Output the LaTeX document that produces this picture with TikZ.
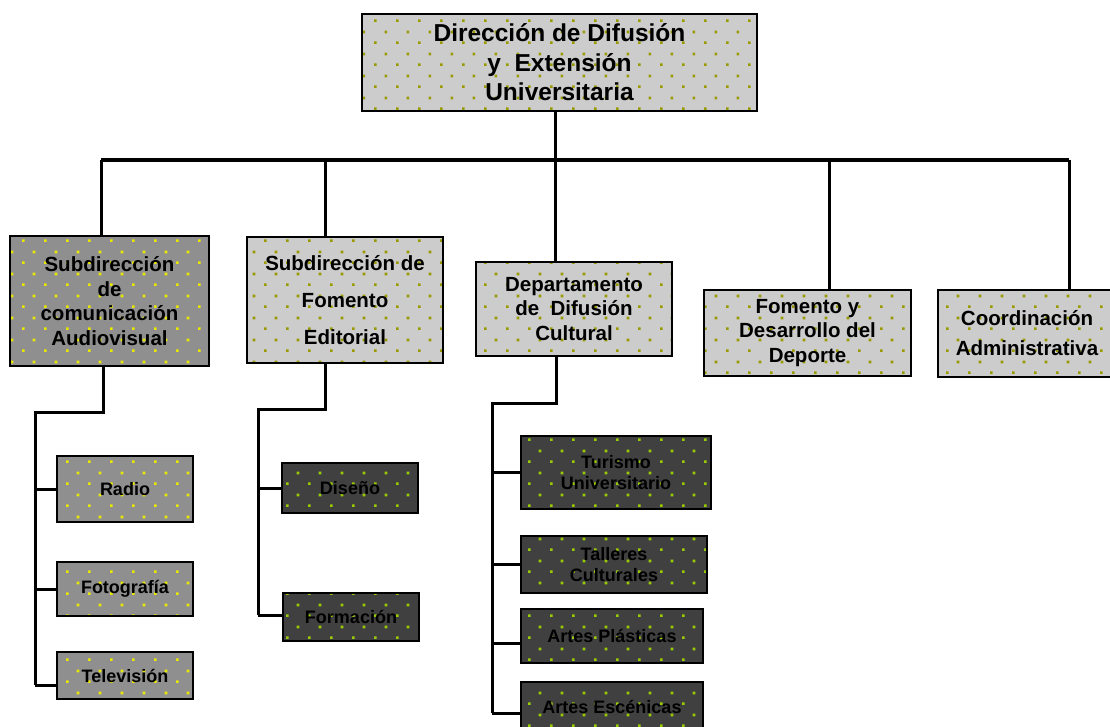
\documentclass[tikz,border=0pt]{standalone}
\usepackage{fontspec}
\setmainfont{Liberation Sans}
\usetikzlibrary{patterns.meta}
\definecolor{greymid}{HTML}{8F8F8F}
\definecolor{greylight}{HTML}{CCCCCC}
\definecolor{greydark}{HTML}{404040}
\definecolor{dotyellow}{HTML}{E8E800}
\definecolor{dotolive}{HTML}{999900}
\definecolor{dotlime}{HTML}{99CC00}
\tikzdeclarepattern{
  name=orgdots,
  type=uncolored,
  bottom left={(0pt,0pt)},
  top right={(22pt,22pt)},
  tile size={(22pt,22pt)},
  code={
    \fill (0pt,0pt) rectangle (2.8pt,2.8pt);
    \fill (11pt,11pt) rectangle (13.8pt,13.8pt);
  }
}
\begin{document}
\begin{tikzpicture}[
        x=1pt,
        y=-1pt,
        font=\bfseries
    ]
    \tikzset{
        orgbox/.style = {rectangle, draw=black, line width=2pt, inner sep=0pt, align=center},
        boxmid/.style = {orgbox, preaction={fill=greymid}, pattern=orgdots, pattern color=dotyellow},
        boxlight/.style = {orgbox, preaction={fill=greylight}, pattern=orgdots, pattern color=dotolive},
        boxdark/.style = {orgbox, preaction={fill=greydark}, pattern=orgdots, pattern color=dotlime},
        txtbig/.style = {font=\fontsize{24.5}{29.5}\selectfont\bfseries},
        txtmid/.style = {font=\fontsize{20.5}{24.5}\selectfont\bfseries},
        txtsmall/.style = {font=\fontsize{18}{21}\selectfont\bfseries},
        link/.style = {line width=3pt},
        linkbar/.style = {line width=3.5pt},
    }
    \useasboundingbox (0,0) rectangle (1110,726);
    \node[boxlight, txtbig, minimum width=395, minimum height=97] at (559.5,62.5) (dir) {Dirección de Difusión\\y \ Extensión\\Universitaria};
    %
    \node[boxmid, txtmid, minimum width=199, minimum height=130] at (109.5,301) (audio) {Subdirección\\de\\comunicación\\Audiovisual};
    \node[boxlight, txtmid, font=\fontsize{20.5}{37}\selectfont\bfseries, minimum width=196, minimum height=126] at (345,300) (edit) {Subdirección de\\Fomento\\Editorial};
    \node[boxlight, txtmid, minimum width=196, minimum height=94] at (574,309) (dept) {Departamento\\de \ Difusión\\Cultural};
    \node[boxlight, txtmid, minimum width=207, minimum height=86] at (807.5,333) (deporte) {Fomento y\\Desarrollo del\\Deporte};
    \node[boxlight, txtmid, font=\fontsize{20.5}{30}\selectfont\bfseries, minimum width=178, minimum height=87] at (1027,333.5) (coord) {Coordinación\\Administrativa};
    %
    \node[boxmid, txtsmall, minimum width=136, minimum height=66] at (125,489) (radio) {Radio};
    \node[boxmid, txtsmall, minimum width=136, minimum height=54] at (125,589) (foto) {Fotografía};
    \node[boxmid, txtsmall, minimum width=136, minimum height=47] at (125,675.5) (tele) {Televisión};
    %
    \node[boxdark, txtsmall, minimum width=136, minimum height=50] at (350,488) (diseno) {Diseño};
    \node[boxdark, txtsmall, minimum width=136, minimum height=48] at (351,617) (formacion) {Formación};
    %
    \node[boxdark, txtsmall, minimum width=190, minimum height=73] at (616,472.5) (turismo) {Turismo\\Universitario};
    \node[boxdark, txtsmall, minimum width=186, minimum height=57] at (614,564.5) (talleres) {Talleres\\Culturales};
    \node[boxdark, txtsmall, minimum width=182, minimum height=54] at (612,636) (plasticas) {Artes Plásticas};
    \node[boxdark, txtsmall, minimum width=182, minimum height=50] at (612,707) (escenicas) {Artes Escénicas};
    %
    \coordinate (b1) at (101,160);
    \coordinate (b2) at (325,160);
    \coordinate (b3) at (555,160);
    \coordinate (b4) at (829,160);
    \coordinate (b5) at (1069,160);
    \draw[link] (b3 |- dir.south) -- (b3);
    \draw[linkbar] (b1) -- (b5);
    \draw[link] (b1) -- (b1 |- audio.north);
    \draw[link] (b2) -- (b2 |- edit.north);
    \draw[link] (b3) -- (b3 |- dept.north);
    \draw[link] (b4) -- (b4 |- deporte.north);
    \draw[link] (b5) -- (b5 |- coord.north);
    %
    \coordinate (a0) at (103,412);
    \coordinate (a1) at (35,685);
    \draw[link] (a0 |- audio.south) -- (a0) -| (a1);
    \draw[link] (a1 |- radio.west) -- (radio.west);
    \draw[link] (a1 |- foto.west) -- (foto.west);
    \draw[link] (a1) -- (a1 -| tele.west);
    %
    \coordinate (e0) at (325,409);
    \coordinate (e1) at (258,615);
    \draw[link] (e0 |- edit.south) -- (e0) -| (e1);
    \draw[link] (e1 |- diseno.west) -- (diseno.west);
    \draw[link] (e1) -- (e1 -| formacion.west);
    %
    \coordinate (c0) at (556,403);
    \coordinate (c1) at (492,713);
    \draw[link] (c0 |- dept.south) -- (c0) -| (c1);
    \draw[link] (c1 |- turismo.west) -- (turismo.west);
    \draw[link] (c1 |- talleres.west) -- (talleres.west);
    \draw[link] ([yshift=-7pt]plasticas.west -| c1) -- ([yshift=-7pt]plasticas.west);
    \draw[link] (c1) -- (c1 -| escenicas.west);
\end{tikzpicture}
\end{document}
